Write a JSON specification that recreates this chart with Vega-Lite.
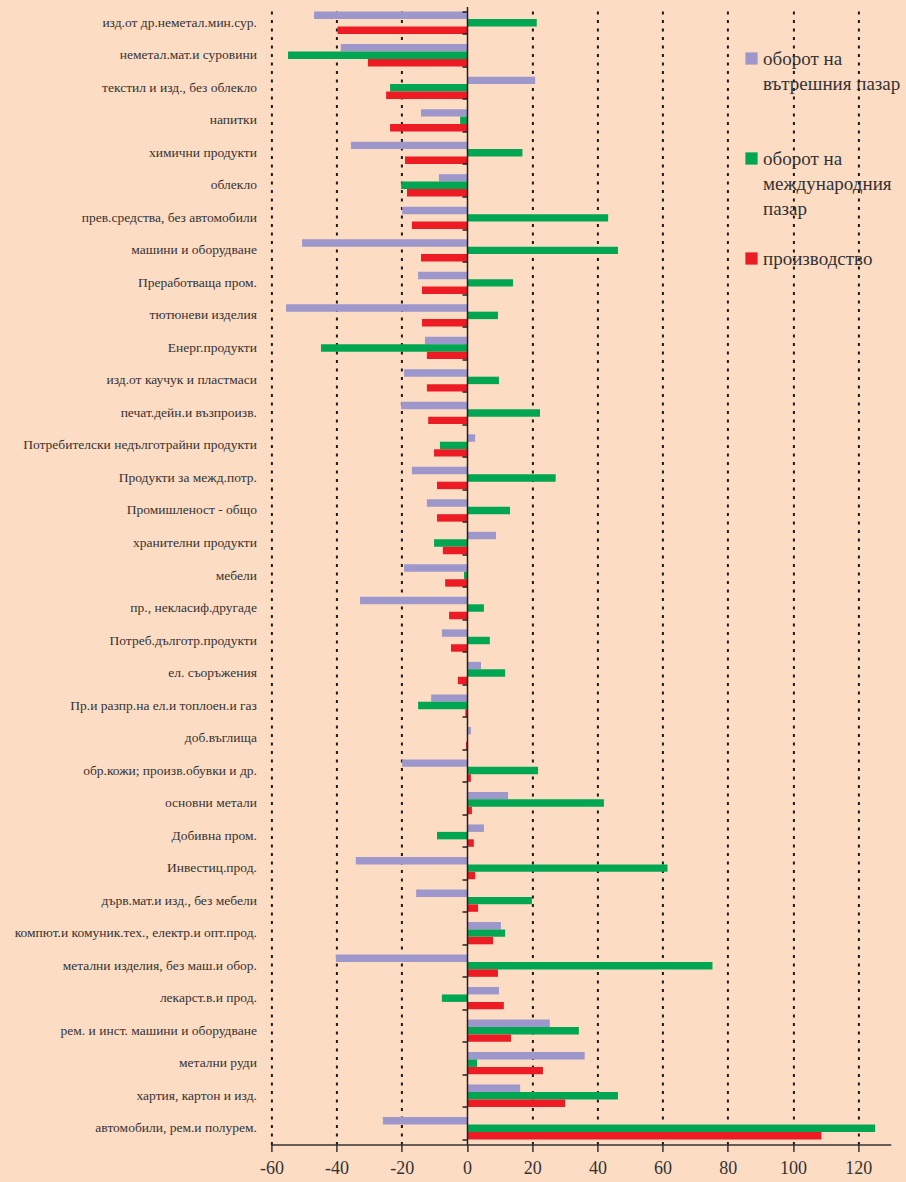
{
  "$schema": "https://vega.github.io/schema/vega-lite/v6.json",
  "width": 619.4,
  "height": 1138,
  "autosize": {"type": "none"},
  "padding": {"left": 271.4, "top": 6.5, "right": 15.2, "bottom": 37.5},
  "background": "#FDDCC4",
  "config": {
    "view": {"stroke": null},
    "font": "Liberation Serif",
    "style": {"guide-label": {"lineHeight": 25}}
  },
  "data": {
    "values": [
      {"cat": "изд.от др.неметал.мин.сур.", "series": "оборот на вътрешния пазар", "value": -46.9},
      {"cat": "изд.от др.неметал.мин.сур.", "series": "оборот на международния пазар", "value": 21.4},
      {"cat": "изд.от др.неметал.мин.сур.", "series": "производство", "value": -39.7},
      {"cat": "неметал.мат.и суровини", "series": "оборот на вътрешния пазар", "value": -38.7},
      {"cat": "неметал.мат.и суровини", "series": "оборот на международния пазар", "value": -54.9},
      {"cat": "неметал.мат.и суровини", "series": "производство", "value": -30.4},
      {"cat": "текстил и изд., без  облекло", "series": "оборот на вътрешния пазар", "value": 20.9},
      {"cat": "текстил и изд., без  облекло", "series": "оборот на международния пазар", "value": -23.6},
      {"cat": "текстил и изд., без  облекло", "series": "производство", "value": -24.8},
      {"cat": "напитки", "series": "оборот на вътрешния пазар", "value": -14.1},
      {"cat": "напитки", "series": "оборот на международния пазар", "value": -2.1},
      {"cat": "напитки", "series": "производство", "value": -23.6},
      {"cat": "химични продукти", "series": "оборот на вътрешния пазар", "value": -35.6},
      {"cat": "химични продукти", "series": "оборот на международния пазар", "value": 17.0},
      {"cat": "химични продукти", "series": "производство", "value": -19.0},
      {"cat": "облекло", "series": "оборот на вътрешния пазар", "value": -8.6},
      {"cat": "облекло", "series": "оборот на международния пазар", "value": -20.2},
      {"cat": "облекло", "series": "производство", "value": -18.4},
      {"cat": "прев.средства, без автомобили", "series": "оборот на вътрешния пазар", "value": -19.9},
      {"cat": "прев.средства, без автомобили", "series": "оборот на международния пазар", "value": 43.3},
      {"cat": "прев.средства, без автомобили", "series": "производство", "value": -16.9},
      {"cat": "машини и оборудване", "series": "оборот на вътрешния пазар", "value": -50.6},
      {"cat": "машини и оборудване", "series": "оборот на международния пазар", "value": 46.3},
      {"cat": "машини и оборудване", "series": "производство", "value": -14.1},
      {"cat": "Преработваща пром.", "series": "оборот на вътрешния пазар", "value": -15.0},
      {"cat": "Преработваща пром.", "series": "оборот на международния пазар", "value": 14.1},
      {"cat": "Преработваща пром.", "series": "производство", "value": -13.8},
      {"cat": "тютюневи изделия", "series": "оборот на вътрешния пазар", "value": -55.5},
      {"cat": "тютюневи изделия", "series": "оборот на международния пазар", "value": 9.5},
      {"cat": "тютюневи изделия", "series": "производство", "value": -13.8},
      {"cat": "Енерг.продукти", "series": "оборот на вътрешния пазар", "value": -12.9},
      {"cat": "Енерг.продукти", "series": "оборот на международния пазар", "value": -44.8},
      {"cat": "Енерг.продукти", "series": "производство", "value": -12.3},
      {"cat": "изд.от каучук и пластмаси", "series": "оборот на вътрешния пазар", "value": -19.3},
      {"cat": "изд.от каучук и пластмаси", "series": "оборот на международния пазар", "value": 9.8},
      {"cat": "изд.от каучук и пластмаси", "series": "производство", "value": -12.3},
      {"cat": "печат.дейн.и възпроизв.", "series": "оборот на вътрешния пазар", "value": -20.2},
      {"cat": "печат.дейн.и възпроизв.", "series": "оборот на международния пазар", "value": 22.4},
      {"cat": "печат.дейн.и възпроизв.", "series": "производство", "value": -11.9},
      {"cat": "Потребителски недълготрайни продукти", "series": "оборот на вътрешния пазар", "value": 2.5},
      {"cat": "Потребителски недълготрайни продукти", "series": "оборот на международния пазар", "value": -8.3},
      {"cat": "Потребителски недълготрайни продукти", "series": "производство", "value": -10.1},
      {"cat": "Продукти за межд.потр.", "series": "оборот на вътрешния пазар", "value": -16.9},
      {"cat": "Продукти за межд.потр.", "series": "оборот на международния пазар", "value": 27.2},
      {"cat": "Продукти за межд.потр.", "series": "производство", "value": -9.2},
      {"cat": "Промишленост - общо", "series": "оборот на вътрешния пазар", "value": -12.3},
      {"cat": "Промишленост - общо", "series": "оборот на международния пазар", "value": 13.2},
      {"cat": "Промишленост - общо", "series": "производство", "value": -9.2},
      {"cat": "хранителни продукти", "series": "оборот на вътрешния пазар", "value": 8.9},
      {"cat": "хранителни продукти", "series": "оборот на международния пазар", "value": -10.1},
      {"cat": "хранителни продукти", "series": "производство", "value": -7.4},
      {"cat": "мебели", "series": "оборот на вътрешния пазар", "value": -19.3},
      {"cat": "мебели", "series": "оборот на международния пазар", "value": -0.9},
      {"cat": "мебели", "series": "производство", "value": -6.7},
      {"cat": "пр., некласиф.другаде", "series": "оборот на вътрешния пазар", "value": -32.8},
      {"cat": "пр., некласиф.другаде", "series": "оборот на международния пазар", "value": 5.2},
      {"cat": "пр., некласиф.другаде", "series": "производство", "value": -5.5},
      {"cat": "Потреб.дълготр.продукти", "series": "оборот на вътрешния пазар", "value": -7.7},
      {"cat": "Потреб.дълготр.продукти", "series": "оборот на международния пазар", "value": 7.0},
      {"cat": "Потреб.дълготр.продукти", "series": "производство", "value": -4.9},
      {"cat": "ел. съоръжения", "series": "оборот на вътрешния пазар", "value": 4.3},
      {"cat": "ел. съоръжения", "series": "оборот на международния пазар", "value": 11.7},
      {"cat": "ел. съоръжения", "series": "производство", "value": -2.8},
      {"cat": "Пр.и разпр.на ел.и топлоен.и газ", "series": "оборот на вътрешния пазар", "value": -11.0},
      {"cat": "Пр.и разпр.на ел.и топлоен.и газ", "series": "оборот на международния пазар", "value": -15.0},
      {"cat": "Пр.и разпр.на ел.и топлоен.и газ", "series": "производство", "value": -0.5},
      {"cat": "доб.въглища", "series": "оборот на вътрешния пазар", "value": 1.2},
      {"cat": "доб.въглища", "series": "оборот на международния пазар", "value": 0},
      {"cat": "доб.въглища", "series": "производство", "value": -0.3},
      {"cat": "обр.кожи; произв.обувки и др.", "series": "оборот на вътрешния пазар", "value": -19.9},
      {"cat": "обр.кожи; произв.обувки и др.", "series": "оборот на международния пазар", "value": 21.8},
      {"cat": "обр.кожи; произв.обувки и др.", "series": "производство", "value": 1.2},
      {"cat": "основни метали", "series": "оборот на вътрешния пазар", "value": 12.6},
      {"cat": "основни метали", "series": "оборот на международния пазар", "value": 42.0},
      {"cat": "основни метали", "series": "производство", "value": 1.5},
      {"cat": "Добивна пром.", "series": "оборот на вътрешния пазар", "value": 5.2},
      {"cat": "Добивна пром.", "series": "оборот на международния пазар", "value": -9.2},
      {"cat": "Добивна пром.", "series": "производство", "value": 2.1},
      {"cat": "Инвестиц.прод.", "series": "оборот на вътрешния пазар", "value": -34.1},
      {"cat": "Инвестиц.прод.", "series": "оборот на международния пазар", "value": 61.5},
      {"cat": "Инвестиц.прод.", "series": "производство", "value": 2.5},
      {"cat": "дърв.мат.и изд., без мебели", "series": "оборот на вътрешния пазар", "value": -15.6},
      {"cat": "дърв.мат.и изд., без мебели", "series": "оборот на международния пазар", "value": 19.9},
      {"cat": "дърв.мат.и изд., без мебели", "series": "производство", "value": 3.4},
      {"cat": "компют.и комуник.тех., електр.и опт.прод.", "series": "оборот на вътрешния пазар", "value": 10.4},
      {"cat": "компют.и комуник.тех., електр.и опт.прод.", "series": "оборот на международния пазар", "value": 11.7},
      {"cat": "компют.и комуник.тех., електр.и опт.прод.", "series": "производство", "value": 8.0},
      {"cat": "метални изделия, без маш.и обор.", "series": "оборот на вътрешния пазар", "value": -40.2},
      {"cat": "метални изделия, без маш.и обор.", "series": "оборот на международния пазар", "value": 75.3},
      {"cat": "метални изделия, без маш.и обор.", "series": "производство", "value": 9.5},
      {"cat": "лекарст.в.и прод.", "series": "оборот на вътрешния пазар", "value": 9.8},
      {"cat": "лекарст.в.и прод.", "series": "оборот на международния пазар", "value": -7.7},
      {"cat": "лекарст.в.и прод.", "series": "производство", "value": 11.3},
      {"cat": "рем. и инст. машини и оборудване", "series": "оборот на вътрешния пазар", "value": 25.4},
      {"cat": "рем. и инст. машини и оборудване", "series": "оборот на международния пазар", "value": 34.3},
      {"cat": "рем. и инст. машини и оборудване", "series": "производство", "value": 13.5},
      {"cat": "метални руди", "series": "оборот на вътрешния пазар", "value": 36.1},
      {"cat": "метални руди", "series": "оборот на международния пазар", "value": 3.1},
      {"cat": "метални руди", "series": "производство", "value": 23.3},
      {"cat": "хартия, картон и изд.", "series": "оборот на вътрешния пазар", "value": 16.3},
      {"cat": "хартия, картон и изд.", "series": "оборот на международния пазар", "value": 46.3},
      {"cat": "хартия, картон и изд.", "series": "производство", "value": 30.1},
      {"cat": "автомобили, рем.и полурем.", "series": "оборот на вътрешния пазар", "value": -25.8},
      {"cat": "автомобили, рем.и полурем.", "series": "оборот на международния пазар", "value": 125.2},
      {"cat": "автомобили, рем.и полурем.", "series": "производство", "value": 108.7}
    ]
  },
  "resolve": {"axis": {"y": "independent"}},
  "layer": [
    {
      "mark": {"type": "bar"},
      "encoding": {
        "y": {
          "field": "cat", "type": "nominal", "sort": null,
          "scale": {"paddingInner": 0.313, "paddingOuter": 0.157},
          "axis": {
            "orient": "left", "title": null, "domain": false, "ticks": false,
            "labelFont": "Liberation Serif", "labelFontSize": 13.5, "labelColor": "#333333",
            "labelPadding": 15, "labelLimit": 400
          }
        },
        "yOffset": {
          "field": "series",
          "sort": ["оборот на вътрешния пазар", "оборот на международния пазар", "производство"]
        },
        "x": {
          "field": "value", "type": "quantitative",
          "scale": {"domain": [-60, 130], "nice": false, "zero": false},
          "axis": {
            "title": null,
            "values": [-60, -40, -20, 0, 20, 40, 60, 80, 100, 120],
            "labelExpr": "'' + datum.value",
            "grid": true,
            "gridDash": [3, 5.5],
            "gridColor": "#1a1a1a",
            "gridWidth": 2,
            "gridOpacity": {"condition": {"test": "datum.value === 0", "value": 0}, "value": 1},
            "domainColor": "#333333", "domainWidth": 1.5,
            "tickColor": "#333333", "tickWidth": 1.5, "tickSize": 7,
            "labelFont": "Liberation Serif", "labelFontSize": 18, "labelColor": "#333333",
            "labelPadding": 8, "labelFlush": false
          }
        },
        "color": {
          "field": "series", "type": "nominal",
          "scale": {
            "domain": ["оборот на вътрешния пазар", "оборот на международния пазар", "производство"],
            "range": ["#9D97CC", "#00A651", "#ED1C24"]
          },
          "legend": {
            "title": null,
            "orient": "none",
            "legendX": 470.6,
            "legendY": 42.5,
            "padding": 0,
            "symbolType": "square",
            "symbolSize": 150,
            "symbolStrokeWidth": 0,
            "symbolOpacity": 1,
            "labelFont": "Liberation Serif",
            "labelFontSize": 19,
            "labelColor": "#333333",
            "labelOffset": 2,
            "labelLimit": 300,
            "gridAlign": "all",
            "rowPadding": 30,
            "labelExpr": "datum.label == 'оборот на вътрешния пазар' ? ['оборот на', 'вътрешния пазар'] : datum.label == 'оборот на международния пазар' ? ['оборот на', 'международния', 'пазар'] : datum.label"
          }
        }
      }
    },
    {
      "mark": {"type": "point", "opacity": 0, "size": 0},
      "encoding": {
        "y": {
          "field": "cat", "type": "nominal", "sort": null,
          "axis": {
            "orient": "left", "title": null, "labels": false,
            "offset": -195.6,
            "domain": true, "domainColor": "#231F20", "domainWidth": 1.5,
            "ticks": true, "tickBand": "extent", "tickSize": 5,
            "tickColor": "#231F20", "tickWidth": 1.5,
            "grid": false, "zindex": 2
          }
        },
        "x": {"datum": 0, "type": "quantitative"}
      }
    }
  ]
}
